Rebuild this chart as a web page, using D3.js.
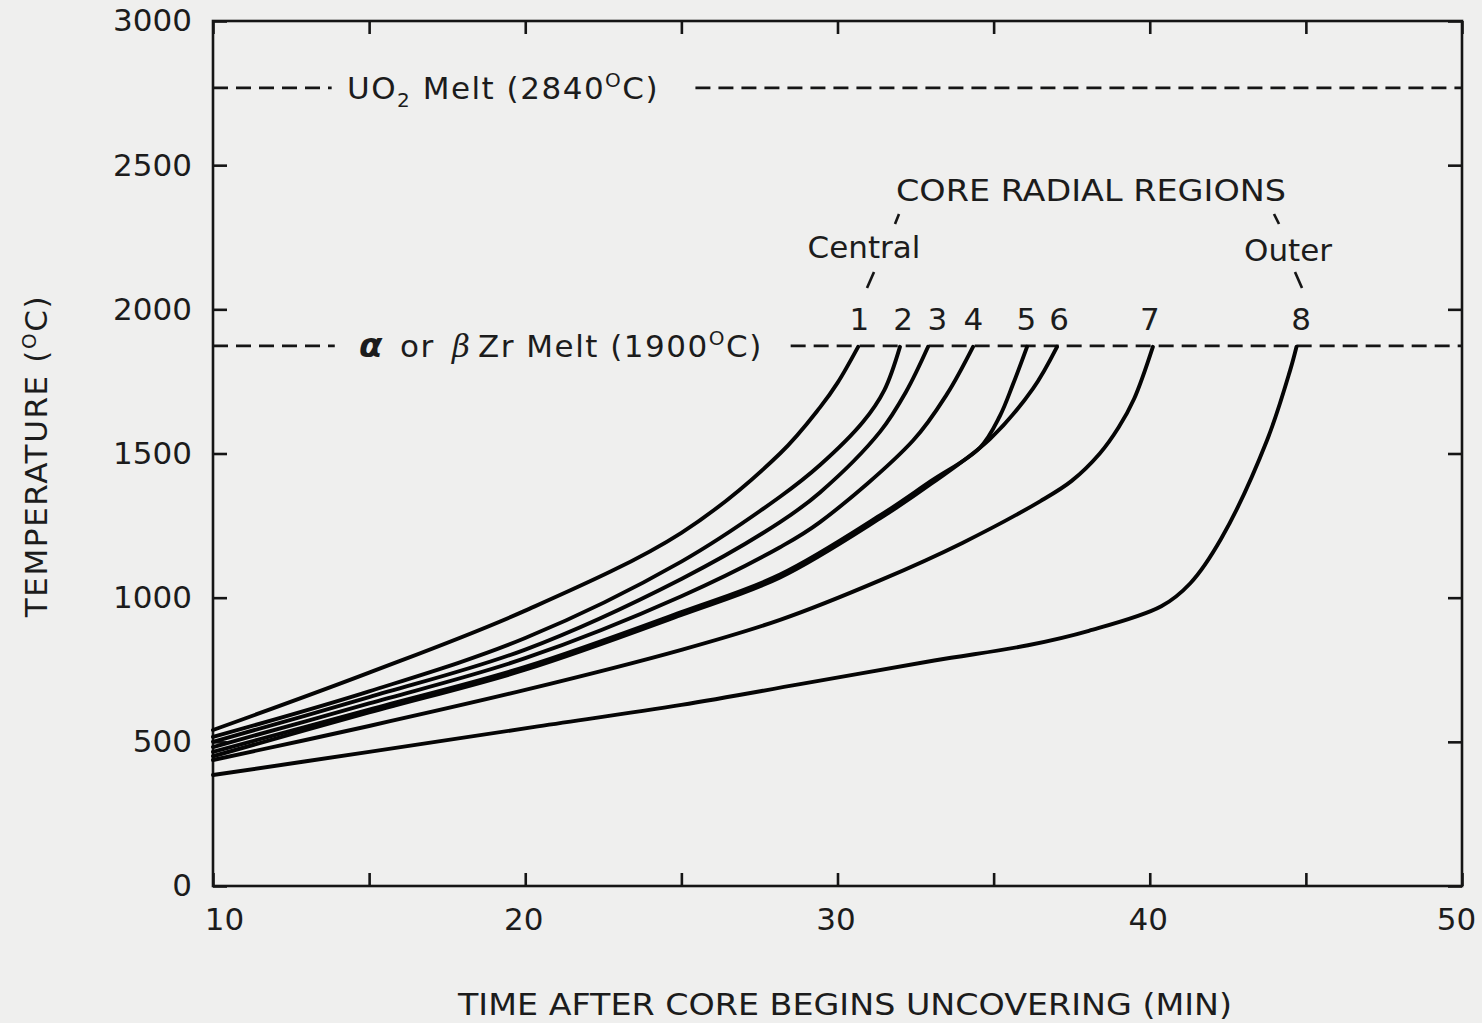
<!DOCTYPE html>
<html>
<head>
<meta charset="utf-8">
<script src="https://cdn.jsdelivr.net/npm/d3@7"></script>
<style>
  html, body { margin: 0; padding: 0; background: #efefee; }
  svg { display: block; }
  text { font-family: "DejaVu Sans", Verdana, sans-serif; fill: #1c1c1c; }
</style>
</head>
<body>
<div id="chart"></div>
<script>
// time (min) vs temperature (C), one array per core radial region
const region1 = [[10,541],[15,740],[20,955],[25,1225],[28.16,1500],[29.44,1660],[30.0,1745],[30.66,1870]];
const region2 = [[10,517],[15,675],[20,860],[25,1125],[28.16,1350],[29.44,1460],[30.82,1610],[31.5,1720],[32.0,1870]];
const region3 = [[10,500],[15,655],[20,820],[25,1065],[28.16,1262],[29.44,1365],[31.36,1575],[32.2,1715],[32.9,1870]];
const region4 = [[10,482],[15,633],[20,790],[25,1005],[28.16,1175],[29.44,1262],[32.42,1545],[33.5,1705],[34.34,1870]];
const region5 = [[10,465],[15,612],[20,760],[25,950],[28.16,1080],[31.36,1285],[33,1405],[34.56,1520],[35.2,1630],[35.62,1740],[36.07,1870]];
const region6 = [[10,450],[15,602],[20,750],[25,940],[28.16,1070],[31.36,1275],[33,1395],[34.88,1550],[36.26,1725],[37.03,1870]];
const region7 = [[10,437],[15,555],[20,680],[25,819],[28.16,923],[31.36,1060],[34,1190],[36.5,1335],[37.5,1405],[38.4,1500],[39.0,1590],[39.5,1690],[40.1,1870]];
const region8 = [[10,385],[15,465],[20.25,551],[25,628],[28.8,700],[33.1,782],[36.1,835],[38.05,885],[40.37,970],[41.3,1050],[42.29,1205],[43.76,1547],[44.5,1790],[44.7,1870]];
const regions = [region1, region2, region3, region4, region5, region6, region7, region8];

// region number labels: [label, time position]
const regionLabels = [["1",30.7],["2",32.1],["3",33.2],["4",34.35],["5",36.05],["6",37.1],["7",40.0],["8",44.85]];

const xTicks = [10,15,20,25,30,35,40,45,50];
const xLabels = [10,20,30,40,50];
const yTicks = [0,500,1000,1500,2000,2500,3000];

// melt lines as drawn on the chart's scale
const uo2MeltLevel = 2768;
const zrMeltLevel = 1873;

const width = 1482, height = 1023;
const margin = ({top: 21, right: 20, bottom: 137, left: 213});

const svg = d3.select("#chart")
  .append("svg")
  .attr("width", width)
  .attr("height", height);

svg.append("rect")
  .attr("width", width)
  .attr("height", height)
  .attr("fill", "#efefee");

const x = d3.scaleLinear()
  .domain([10, 50])
  .range([margin.left, width - margin.right]);

const y = d3.scaleLinear()
  .domain([0, 3000])
  .range([height - margin.bottom, margin.top]);

const ink = "#151515";

// axes, ticks pointing inward
const styleAxis = g => {
  g.select(".domain").remove();
  g.selectAll(".tick line").attr("stroke", ink).attr("stroke-width", 2.6);
  g.selectAll(".tick text").style("font-size", "31px").attr("fill", "#1c1c1c");
};

svg.append("g")
  .attr("transform", `translate(0,${height - margin.bottom})`)
  .call(d3.axisBottom(x).tickValues(xTicks).tickSizeInner(-13).tickSizeOuter(0)
    .tickPadding(22).tickFormat(d => xLabels.includes(d) ? d : ""))
  .call(styleAxis)
  .call(g => g.selectAll(".tick text").attr("dx", d => d === 10 ? 11 : d === 50 ? -6 : -2));

svg.append("g")
  .attr("transform", `translate(0,${margin.top})`)
  .call(d3.axisTop(x).tickValues(xTicks).tickSizeInner(-13).tickSizeOuter(0).tickFormat(""))
  .call(styleAxis);

svg.append("g")
  .attr("transform", `translate(${margin.left},0)`)
  .call(d3.axisLeft(y).tickValues(yTicks).tickSizeInner(-14).tickSizeOuter(0)
    .tickPadding(21).tickFormat(d3.format("d")))
  .call(styleAxis);

svg.append("g")
  .attr("transform", `translate(${width - margin.right},0)`)
  .call(d3.axisRight(y).tickValues(yTicks).tickSizeInner(-14).tickSizeOuter(0).tickFormat(""))
  .call(styleAxis);

svg.append("rect")
  .attr("x", x(10))
  .attr("y", y(3000))
  .attr("width", x(50) - x(10))
  .attr("height", y(0) - y(3000))
  .attr("fill", "none")
  .attr("stroke", ink)
  .attr("stroke-width", 2.6);

// dashed melt lines, broken where the labels sit
const dashed = (t0, t1, level) => svg.append("line")
  .attr("x1", x(t0)).attr("x2", x(t1))
  .attr("y1", y(level)).attr("y2", y(level))
  .attr("stroke", ink)
  .attr("stroke-width", 2.8)
  .attr("stroke-dasharray", "15,8");

dashed(10, 13.8, uo2MeltLevel);
dashed(25.45, 50, uo2MeltLevel);
dashed(10, 13.9, zrMeltLevel);
dashed(28.5, 50, zrMeltLevel);

// UO2 label
const uo2 = svg.append("text")
  .attr("x", 347)
  .attr("y", y(uo2MeltLevel) + 11)
  .style("font-size", "31px")
  .style("letter-spacing", "1.5px");
uo2.append("tspan").text("UO");
uo2.append("tspan").attr("dy", 8).style("font-size", "20px").text("2");
uo2.append("tspan").attr("dy", -8).text(" Melt (2840");
uo2.append("tspan").attr("dy", -12).style("font-size", "20px").text("O");
uo2.append("tspan").attr("dy", 12).text("C)");

// Zr label
const zr = svg.append("text")
  .attr("y", y(zrMeltLevel) + 11)
  .style("font-size", "31px")
  .style("letter-spacing", "1.5px");
zr.append("tspan").attr("x", 359).style("font-weight", "bold").style("font-style", "italic")
  .style("font-size", "34px").text("α");
zr.append("tspan").attr("x", 400).text("or");
zr.append("tspan").attr("x", 452).style("font-style", "italic").style("font-family", "DejaVu Serif")
  .text("β");
zr.append("tspan").attr("x", 478).text("Zr Melt (1900");
zr.append("tspan").attr("dy", -12).style("font-size", "20px").text("O");
zr.append("tspan").attr("dy", 12).text("C)");

// curves
const line = d3.line()
  .x(d => x(d[0]))
  .y(d => y(d[1]))
  .curve(d3.curveCatmullRom.alpha(0.5));

svg.append("g")
  .selectAll("path")
  .data(regions)
  .join("path")
  .attr("d", line)
  .attr("fill", "none")
  .attr("stroke", "#050505")
  .attr("stroke-width", 3.9)
  .attr("stroke-linecap", "round");

// region numbers
svg.append("g")
  .selectAll("text")
  .data(regionLabels)
  .join("text")
  .attr("x", d => x(d[1]))
  .attr("y", 330)
  .attr("text-anchor", "middle")
  .style("font-size", "31px")
  .text(d => d[0]);

svg.append("text")
  .attr("x", 1091).attr("y", 201)
  .attr("text-anchor", "middle")
  .attr("textLength", 390)
  .attr("lengthAdjust", "spacingAndGlyphs")
  .style("font-size", "31px")
  .text("CORE RADIAL REGIONS");

svg.append("text")
  .attr("x", 864).attr("y", 258)
  .attr("text-anchor", "middle")
  .style("font-size", "31px")
  .text("Central");

svg.append("text")
  .attr("x", 1288).attr("y", 261)
  .attr("text-anchor", "middle")
  .style("font-size", "31px")
  .text("Outer");

// little leader ticks between labels
const leaders = [[899,214,895,224],[874,272,867,288],[1274,214,1279,224],[1295,272,1302,288]];
svg.append("g")
  .selectAll("line")
  .data(leaders)
  .join("line")
  .attr("x1", d => d[0]).attr("y1", d => d[1])
  .attr("x2", d => d[2]).attr("y2", d => d[3])
  .attr("stroke", ink)
  .attr("stroke-width", 2.6);

// axis titles
svg.append("text")
  .attr("x", 845).attr("y", 1015)
  .attr("text-anchor", "middle")
  .attr("textLength", 774)
  .attr("lengthAdjust", "spacingAndGlyphs")
  .style("font-size", "30px")
  .text("TIME AFTER CORE BEGINS UNCOVERING (MIN)");

const yTitle = svg.append("text")
  .attr("transform", "translate(47,456) rotate(-90)")
  .attr("text-anchor", "middle")
  .style("font-size", "31px")
  .style("letter-spacing", "1.6px");
yTitle.append("tspan").text("TEMPERATURE  (");
yTitle.append("tspan").attr("dy", -11).style("font-size", "20px").text("O");
yTitle.append("tspan").attr("dy", 11).text("C)");
</script>
</body>
</html>
